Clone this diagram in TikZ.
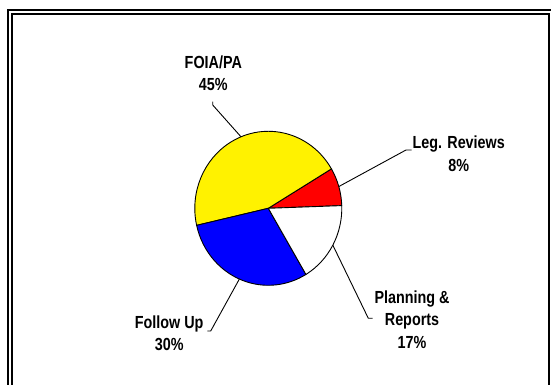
\documentclass[tikz,border=0pt]{standalone}
\usepackage{fontspec}
\newfontfamily\piefont{Liberation Sans Bold}[FakeStretch=0.82]
\usetikzlibrary{calc}

\tikzset{
	slice/.style={draw=black, line width=0.9pt},
	piecaption/.style={anchor=base, align=center, inner sep=0pt, font=\piefont\fontsize{17.5}{22.4}\selectfont},
	leader/.style={line width=0.9pt}
}
\def\rx{73.5}
\def\ry{77}
\def\pieslice[#1](#2:#3){\filldraw[slice, fill=#1] (c) -- ($(c)+(#2:\rx pt and \ry pt)$) arc[start angle=#2, end angle=#3, x radius=\rx pt, y radius=\ry pt] -- cycle;}

\begin{document}
\begin{tikzpicture}[x=1pt, y=1pt]
			%%%%% START %%%%%
			\useasboundingbox (0, 0) rectangle (551, 385);
			
			% double frame, open at the bottom
			\draw[line width=2pt] (8, 0) -- (8, 375) -- (551, 375);
			\draw[line width=2pt] (12, 0) -- (12, 371) -- (549.3, 371) -- (549.3, 0);
			
			\coordinate (c) at (268.3, 176.7);
			
			\pieslice[red](2:30.8)
			\pieslice[yellow](30.8:192.8)
			\pieslice[blue](192.8:300.8)
			\pieslice[white](300.8:362)
			
			% base anchor sits on the last line
			\node[piecaption] (foia) at (213.3, 294.3) {FOIA/PA\\45\%};
			\node[piecaption] (leg) at (458.7, 213.6) {Leg. Reviews\\8\%};
			\node[piecaption] (plan) at (412, 36.9) {Planning \&\\Reports\\17\%};
			\node[piecaption] (follow) at (169.2, 34.3) {Follow Up\\30\%};
			
			\coordinate (foia-edge) at ($(c)+(111.8:\rx pt and \ry pt)$);
			\coordinate (leg-edge) at ($(c)+(16.4:\rx pt and \ry pt)$);
			\coordinate (plan-edge) at ($(c)+(331.4:\rx pt and \ry pt)$);
			\coordinate (follow-edge) at ($(c)+(246.8:\rx pt and \ry pt)$);
			
			\coordinate (foia-end) at (212.7, 283.3);
			\coordinate (leg-end) at (411.7, 235);
			\coordinate (plan-end) at (372.7, 66.7);
			\coordinate (follow-end) at (207.3, 54);
			
			\draw[leader] (foia-end) -- ++(0, -3.3) -- (foia-edge);
			\draw[leader] (leg-end) -- ++(-5.7, 0) -- (leg-edge);
			\draw[leader] (plan-end) -- ++(-4.4, 0) -- (plan-edge);
			\draw[leader] (follow-end) -- ++(3.4, 0) -- (follow-edge);
			
			%%%%% END %%%%%
\end{tikzpicture}
\end{document}
